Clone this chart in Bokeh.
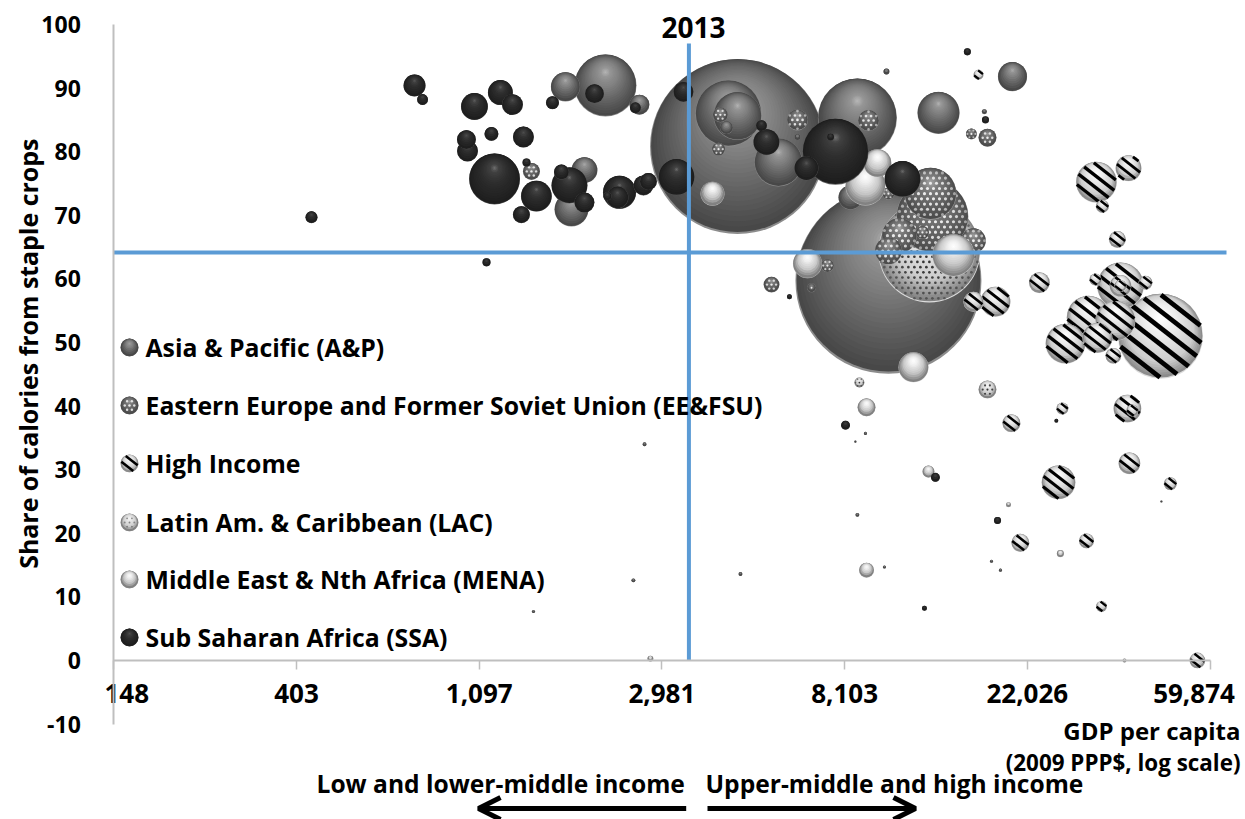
import math
import numpy as np
from bokeh.plotting import figure
from bokeh.embed import file_html
from bokeh.resources import INLINE
from bokeh.core.properties import value
from bokeh.models import Range1d, FixedTicker, CustomJSTickFormatter, Arrow, OpenHead, ColumnDataSource

# ---------- data: ln(GDP per capita), share of calories from staples, population (millions)
ap_ln = [8.414, 9.240, 9.070, 7.691, 8.364, 8.414, 8.638, 9.514, 7.505, 7.472, 9.919, 7.576, 9.032, 7.877, 8.353, 8.742, 9.229, 9.765,
         9.114, 9.059, 9.218, 9.804, 9.853, 9.070, 10.734, 7.905, 7.844, 7.297, 8.430]
ap_share = [80.8, 59.7, 85.3, 90.4, 86.0, 85.6, 78.3, 86.1, 70.9, 90.2, 91.8, 77.1, 72.8, 87.4, 83.8, 82.3, 92.6, 86.3,
            35.7, 34.4, 14.7, 15.6, 14.2, 22.9, 25.0, 34.0, 12.6, 7.7, 13.6]
ap_pop = [1225, 1384, 250, 154, 174, 92, 92, 71, 46, 34, 34, 27, 23, 16, 6.8, 1.4, 1.4, 1,
          0.4, 0.2, 0.4, 0.4, 0.4, 0.6, 0.2, 0.6, 0.6, 0.4, 0.6]

lac_ln = [9.464, 9.782, 9.081]
lac_share = [64.3, 42.6, 43.7]
lac_pop = [416, 13, 4]

ee_ln = [9.481, 9.470, 9.300, 9.240, 9.705, 8.742, 9.131, 9.782, 7.286, 8.600, 8.320, 8.310, 9.426, 8.906, 9.240, 9.694, 8.819]
ee_share = [69.8, 73.4, 66.8, 64.4, 66.0, 85.0, 84.9, 82.2, 76.9, 59.1, 85.8, 80.4, 67.3, 62.1, 73.4, 82.8, 58.6]
ee_pop = [207, 108, 49, 29, 25, 17.6, 17.6, 13, 11.6, 10, 9, 6.8, 6.8, 6.8, 5.8, 4.8, 3.2]

hi_ln = [10.729, 10.510, 10.335, 10.209, 10.378, 10.482, 10.171, 10.384, 9.826, 10.548, 10.554, 10.510, 10.559, 10.066, 9.705, 10.493,
         10.471, 10.324, 9.913, 9.962, 10.931, 10.647, 10.411, 10.783, 10.373, 10.510, 10.575, 10.192, 10.406, 9.733]
hi_share = [51.0, 58.9, 53.9, 49.8, 75.2, 53.4, 28.0, 50.7, 56.4, 39.6, 77.4, 58.9, 31.0, 59.4, 56.4, 66.2,
            47.9, 18.8, 37.3, 18.5, 0.0, 59.4, 71.4, 27.8, 59.9, 58.9, 39.3, 39.6, 8.5, 92.1]
hi_pop = [289, 88, 77, 64, 67, 64, 46, 36, 36, 31, 27, 19, 19, 17.6, 16, 11.6,
          10, 9, 13, 13, 10, 7.8, 6.8, 6.8, 5.8, 5.8, 5.8, 5.8, 4.8, 4]

mena_ln = [9.596, 9.114, 9.377, 8.797, 9.180, 8.277, 9.120, 9.120, 9.459, 10.181, 7.937, 9.897, 10.532]
mena_share = [63.7, 74.7, 46.1, 62.4, 78.2, 73.4, 39.8, 14.2, 29.7, 16.8, 0.3, 24.5, 0.0]
mena_pop = [71, 64, 36, 34, 31, 23, 13, 9, 5.8, 2, 1.4, 1, 0.6]

ssa_ln = [8.950, 7.084, 7.494, 8.080, 9.317, 7.768, 7.313, 6.974, 8.572, 7.116, 8.791, 7.757, 6.646, 7.182, 6.936, 7.242,
          8.118, 7.576, 7.899, 7.631, 6.930, 7.926, 7.231, 7.450, 7.067, 7.401, 6.082, 6.690, 7.855, 8.545,
          9.005, 9.497, 7.259, 7.702, 7.040, 8.923, 9.672, 9.771, 9.837, 8.698, 9.437, 10.159]
ssa_share = [80.0, 75.7, 74.7, 76.0, 75.7, 73.6, 73.0, 87.1, 81.5, 89.3, 77.4, 72.8, 90.4, 87.4, 80.1, 82.3,
             89.4, 72.0, 74.7, 89.1, 81.9, 75.3, 70.1, 76.8, 82.8, 87.7, 69.7, 88.2, 86.9, 84.1,
             37.0, 28.8, 78.3, 73.0, 62.6, 82.3, 95.7, 85.0, 22.0, 57.2, 8.2, 37.7]
ssa_pop = [174, 104, 52, 52, 52, 44, 38, 29, 27, 25, 23, 19, 19.4, 17.6, 17.6, 17.6,
           16, 16, 16, 14.4, 14.4, 11.6, 11.6, 9, 7.8, 6.8, 5.8, 4.8, 4.8, 4.8,
           3.2, 3.2, 2.6, 2.6, 2.6, 2, 2, 2, 2, 1, 1, 0.6]

x_tick_ln = [5, 6, 7, 8, 9, 10, 11]
x_tick_labels = ["148", "403", "1,097", "2,981", "8,103", "22,026", "59,874"]
y_ticks = [-10, 0, 10, 20, 30, 40, 50, 60, 70, 80, 90, 100]
legend_labels = ["Asia & Pacific (A&P)", "Eastern Europe and Former Soviet Union (EE&FSU)", "High Income",
                 "Latin Am. & Caribbean (LAC)", "Middle East & Nth Africa (MENA)", "Sub Saharan Africa (SSA)"]
threshold_gdp = 3456
threshold_share = 64.15

# ---------- layout
W, H = 1245, 819
PX_LN = 182.7        # px per unit of ln(GDP)
PX_U = 6.36          # px per percentage point
X0, Y0 = 113.3, 660  # page px of ln=5 and share=0
def X(px): return math.exp(5 + (px - X0) / PX_LN)
def Y(py): return (Y0 - py) / PX_U
def D(pop): return 5.0 * math.sqrt(pop)

p = figure(width=W, height=H, x_axis_type="log", output_backend="svg", toolbar_location=None,
           x_range=Range1d(X(0), X(W)), y_range=Range1d(Y(H), Y(0)),
           min_border=0, min_border_left=0, min_border_right=0, min_border_top=0, min_border_bottom=0,
           background_fill_color="white", border_fill_color="white", outline_line_color=None)
p.grid.visible = False

FONT = "Open Sans"
xa = p.xaxis[0]
xa.fixed_location = 0
xa.bounds = (math.exp(5), math.exp(11))
xa.ticker = FixedTicker(ticks=[math.exp(v) for v in x_tick_ln])
xa.formatter = CustomJSTickFormatter(code="return ''")
xa.axis_line_color = "#BFBFBF"; xa.axis_line_width = 2
xa.major_tick_line_color = "#BFBFBF"; xa.major_tick_line_width = 1.5
xa.major_tick_out = 9; xa.major_tick_in = 0
xa.minor_tick_line_color = None

ya = p.yaxis[0]
ya.fixed_location = math.exp(5)
ya.bounds = (-10, 100)
ya.ticker = FixedTicker(ticks=y_ticks)
ya.major_label_overrides = {t: str(t) for t in y_ticks}
ya.axis_line_color = "#BFBFBF"; ya.axis_line_width = 2
ya.major_tick_line_color = None; ya.minor_tick_line_color = None
ya.major_label_standoff = 27
ya.major_label_text_font = FONT; ya.major_label_text_font_style = "bold"
ya.major_label_text_font_size = "23px"; ya.major_label_text_color = "black"

# ---------- sphere drawing
def lerp_stops(stops, t):
    for (t0, c0), (t1, c1) in zip(stops, stops[1:]):
        if t <= t1:
            f = (t - t0) / (t1 - t0)
            v = [a + (b - a) * f for a, b in zip(c0, c1)]
            return "#%02x%02x%02x" % tuple(int(round(q)) for q in v)
    return "#%02x%02x%02x" % tuple(stops[-1][1])

def g(v): return (v, v, v)
AP = dict(rim="#8c8c8c", stops=[(0, g(72)), (0.2, g(92)), (0.55, g(126)), (0.85, g(150)), (1, g(180))])
EE = dict(rim="#a0a0a0", stops=[(0, g(76)), (0.3, g(100)), (0.7, g(124)), (1, g(165))])
LAC = dict(rim="#dddddd", stops=[(0, g(130)), (0.25, g(205)), (0.7, g(232)), (1, g(250))])
HI = dict(rim="#dddddd", stops=[(0, g(140)), (0.2, g(205)), (0.6, g(235)), (1, g(255))])
MENA = dict(rim="#c8c8c8", stops=[(0, g(130)), (0.3, g(200)), (0.7, g(238)), (1, g(255))])
SSA = dict(rim="#5e5e5e", stops=[(0, g(30)), (0.5, g(46)), (0.85, g(66)), (1, g(112))])

buf = dict(x=[], y=[], size=[], color=[], alpha=[])
def add(x, y, size, color, alpha=1.0):
    buf["x"].append(x); buf["y"].append(y); buf["size"].append(size)
    buf["color"].append(color); buf["alpha"].append(alpha)

def flush():
    if buf["x"]:
        p.scatter("x", "y", size="size", marker="circle", fill_color="color", fill_alpha="alpha",
                  line_color=None, source=ColumnDataSource({k: list(v) for k, v in buf.items()}))
        for v in buf.values():
            v.clear()

def sphere(ln, share, d, style):
    x = math.exp(ln)
    R = d / 2
    n = int(min(30, max(2, d / 3.0 + 2)))
    add(x, share, d, style["rim"])
    for i in range(n):
        t = i / (n - 1)
        r = (R * 0.988) * (1 - 0.97 * t)
        off = R * 0.012 + R * 0.42 * (1 - (1 - t) ** 2)
        add(x, share + off / PX_U, 2 * r, lerp_stops(style["stops"], t))

def mesh(ln, share, d, color, factor, strength):
    if d < 8:
        return
    R = d / 2 - 0.8
    s = min(6.0, 2.8 + 0.11 * d)
    rows = int(R / (s * 0.866)) + 1
    for j in range(-rows, rows + 1):
        cy = j * s * 0.866
        for i in range(-int(R / s) - 2, int(R / s) + 3):
            cx = (i + (0.5 if j % 2 else 0)) * s
            rho = math.hypot(cx, cy) / R
            if rho <= 1:
                add(math.exp(ln + cx / PX_LN), share - cy / PX_U, factor * s, color,
                    strength * (1 - 0.55 * rho ** 3))

def stripes(ln, share, d):
    if d < 5:
        return
    th = math.radians(38)
    ux, uy = math.cos(th), math.sin(th)       # stripe direction on screen, y down
    nx, ny = -uy, ux
    s = 5.5 + 0.09 * d
    w = 0.36 * s
    R = d / 2 - 0.25 * w
    xs, ys = [], []
    k = int(R / s) + 1
    for i in range(-k, k + 1):
        c = (i + 0.5) * s
        if abs(c) + 0.4 >= R:
            continue
        h = math.sqrt(R * R - c * c)
        x1, y1 = c * nx - h * ux, c * ny - h * uy
        x2, y2 = c * nx + h * ux, c * ny + h * uy
        xs.append([math.exp(ln + x1 / PX_LN), math.exp(ln + x2 / PX_LN)])
        ys.append([share - y1 / PX_U, share - y2 / PX_U])
    if xs:
        p.multi_line(xs, ys, line_color="black", line_width=w, line_cap="butt")

def draw_series(ln, share, pop, style, kind=None):
    order = np.argsort(pop)[::-1]
    for i in order:
        d = D(pop[i])
        sphere(ln[i], share[i], d, style)
        if kind == "ee":
            mesh(ln[i], share[i], d, "#f4f4f4", 0.52, 0.95)
        elif kind == "lac":
            mesh(ln[i], share[i], d, "#222222", 0.45, 0.9)
        elif kind == "hi":
            flush()
            stripes(ln[i], share[i], d)

draw_series(ap_ln, ap_share, ap_pop, AP)
draw_series(lac_ln, lac_share, lac_pop, LAC, "lac")
draw_series(ee_ln, ee_share, ee_pop, EE, "ee")
flush()
draw_series(hi_ln, hi_share, hi_pop, HI, "hi")
draw_series(mena_ln, mena_share, mena_pop, MENA)
draw_series(ssa_ln, ssa_share, ssa_pop, SSA)
flush()

# ---------- legend markers (same sphere drawing)
leg_py = [347, 405, 463, 522, 579, 637]
leg_styles = [(AP, None), (EE, "ee"), (HI, "hi"), (LAC, "lac"), (MENA, None), (SSA, None)]
LEG_POP = (18 / 5.0) ** 2
for py, (st, kind) in zip(leg_py, leg_styles):
    ln = 5 + (129 - X0) / PX_LN
    sphere(ln, Y(py), D(LEG_POP), st)
    if kind == "ee":
        mesh(ln, Y(py), D(LEG_POP), "#f4f4f4", 0.52, 0.95)
    if kind == "lac":
        mesh(ln, Y(py), D(LEG_POP), "#444444", 0.4, 0.6)
    if kind == "hi":
        flush()
        stripes(ln, Y(py), D(LEG_POP))
flush()

# ---------- threshold lines
BLUE = "#5B9BD5"
p.line([threshold_gdp, threshold_gdp], [0, Y(43)], line_color=BLUE, line_width=4, line_cap="butt")
p.line([math.exp(5), X(1226)], [threshold_share, threshold_share], line_color=BLUE, line_width=4, line_cap="butt")

# ---------- texts
F = value(FONT)
def txt(px, py, s, size, align="left", angle=0.0):
    p.text([X(px)], [Y(py)], text=[s], text_font=F, text_font_style="bold", text_font_size=value(size),
           text_color="black", text_align=align, text_baseline="middle", angle=angle)

for v, s in zip(x_tick_ln, x_tick_labels):
    off = {"148": 13, "59,874": -16}.get(s, 0)
    p.text([math.exp(v)], [Y(693)], text=[s], x_offset=off, text_font=F, text_font_style="bold",
           text_font_size=value("26px"), text_color="black", text_align="center", text_baseline="middle")

for py, s in zip(leg_py, legend_labels):
    txt(145, py - 1, s, "24.8px")

txt(693, 27, "2013", "28px", "center")
txt(27, 350, "Share of calories from staple  crops", "24.9px", "center", math.pi / 2)
txt(1240, 730, "GDP per capita", "24px", "right")
txt(1240, 762, "(2009 PPP$, log scale)", "22.4px", "right")
txt(316, 783, "Low and lower-middle income", "24.6px")
txt(705, 783, "Upper-middle and high income", "24.6px")

# ---------- arrows
for a, b in [(685.7, 478), (707, 915)]:
    p.add_layout(Arrow(end=OpenHead(size=22, line_width=5, line_color="black"),
                       x_start=X(a), y_start=Y(808), x_end=X(b), y_end=Y(808),
                       line_color="black", line_width=5))

open("out.html", "w").write(file_html(p, INLINE))
